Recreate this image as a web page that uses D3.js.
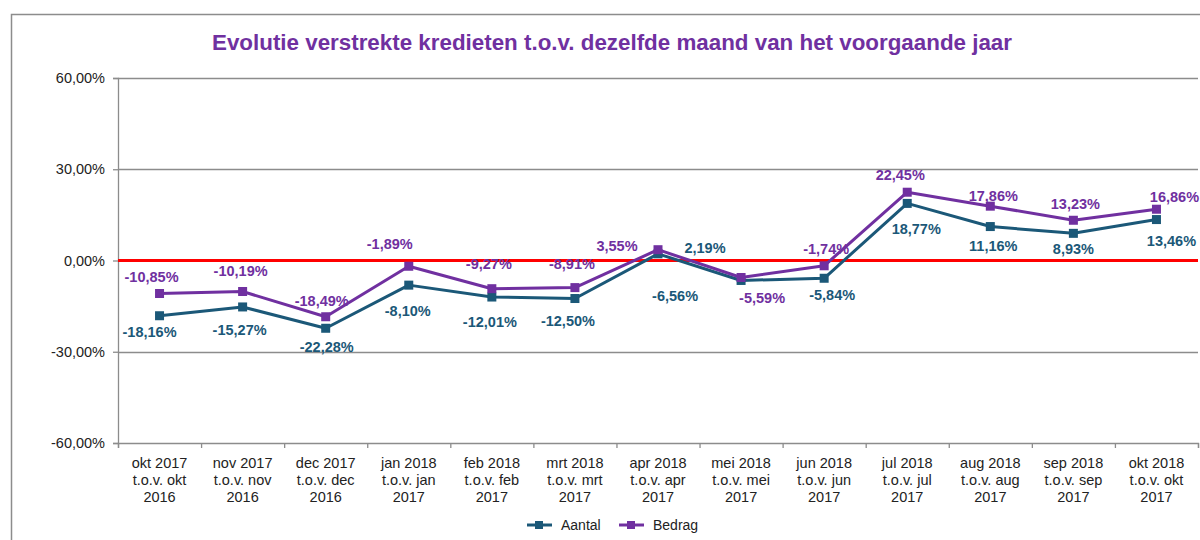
<!DOCTYPE html>
<html>
<head>
<meta charset="utf-8">
<script src="https://cdn.jsdelivr.net/npm/d3@7"></script>
<style>
  body { margin: 0; background: #fff; }
  svg { display: block; font-family: "Liberation Sans", Arial, sans-serif; }
</style>
</head>
<body>
<svg id="chart" width="1200" height="540"></svg>
<script>
// categories (3 lines each)
var categories = [
  ["okt 2017", "t.o.v. okt", "2016"],
  ["nov 2017", "t.o.v. nov", "2016"],
  ["dec 2017", "t.o.v. dec", "2016"],
  ["jan 2018", "t.o.v. jan", "2017"],
  ["feb 2018", "t.o.v. feb", "2017"],
  ["mrt 2018", "t.o.v. mrt", "2017"],
  ["apr 2018", "t.o.v. apr", "2017"],
  ["mei 2018", "t.o.v. mei", "2017"],
  ["jun 2018", "t.o.v. jun", "2017"],
  ["jul 2018", "t.o.v. jul", "2017"],
  ["aug 2018", "t.o.v. aug", "2017"],
  ["sep 2018", "t.o.v. sep", "2017"],
  ["okt 2018", "t.o.v. okt", "2017"]
];
var aantal = [-18.16, -15.27, -22.28, -8.10, -12.01, -12.50, 2.19, -6.56, -5.84, 18.77, 11.16, 8.93, 13.46];
var bedrag = [-10.85, -10.19, -18.49, -1.89, -9.27, -8.91, 3.55, -5.59, -1.74, 22.45, 17.86, 13.23, 16.86];
var yTicks = [-60, -30, 0, 30, 60];
var seriesNames = ["Aantal", "Bedrag"];

// label offsets (px, from marker to label centre)
var aantalLabelOffset = [[-10,16],[-3,23],[1,19],[-1,26],[-2,25],[-7,22],[47,-6],[-66,15],[8,17],[9,26],[3,19],[0,16],[15,21]];
var bedragLabelOffset = [[-8,-17],[-2,-21],[-4,-16],[-19,-22],[-3,-25],[-3,-24],[-41,-4],[21,20],[2,-17],[-7,-17],[3,-10],[2,-16],[18,-12]];

var colAantal = "#1b5878", colBedrag = "#7030a0";

var svg = d3.select("#chart");
var margin = { top: 78, right: 2, bottom: 97, left: 118 };
var w = 1200 - margin.left - margin.right;
var h = 540 - margin.top - margin.bottom;

// outer chart border
svg.append("rect")
  .attr("x", 11.5).attr("y", 14.5)
  .attr("width", 1200).attr("height", 540)
  .attr("fill", "none").attr("stroke", "#8c8c8c").attr("stroke-width", 1.5);

svg.append("text")
  .attr("x", 612).attr("y", 50)
  .attr("text-anchor", "middle")
  .attr("font-size", 22).attr("font-weight", "bold")
  .attr("fill", colBedrag)
  .attr("textLength", 800).attr("lengthAdjust", "spacingAndGlyphs")
  .text("Evolutie verstrekte kredieten t.o.v. dezelfde maand van het voorgaande jaar");

var g = svg.append("g").attr("transform", "translate(" + margin.left + "," + margin.top + ")");

var x = d3.scaleBand().domain(d3.range(categories.length)).range([0, w]);
var y = d3.scaleLinear().domain([-60, 60]).range([h, 0]);
var cx = function(i) { return x(i) + x.bandwidth() / 2; };

// gridlines
g.selectAll(".grid").data(yTicks.filter(function(t) { return t !== 0 && t !== -60; }))
  .enter().append("line")
    .attr("x1", 0).attr("x2", w)
    .attr("y1", function(d) { return Math.round(y(d)) + 0.5; })
    .attr("y2", function(d) { return Math.round(y(d)) + 0.5; })
    .attr("stroke", "#8c8c8c").attr("stroke-width", 1.3);

// y axis
var yAxis = g.append("g")
  .call(d3.axisLeft(y).tickValues(yTicks).tickSize(5).tickPadding(8)
    .tickFormat(function(d) { return d3.format(".2f")(d).replace(".", ",").replace("\u2212", "-") + "%"; }));
yAxis.select(".domain").attr("stroke", "#8c8c8c").attr("stroke-width", 1.3);
yAxis.selectAll(".tick line").attr("stroke", "#8c8c8c").attr("stroke-width", 1.3);
yAxis.selectAll(".tick text").attr("font-size", 14.5).attr("fill", "#222")
  .attr("font-family", "Liberation Sans, Arial, sans-serif");

// x axis
var xAxis = g.append("g").attr("transform", "translate(0," + h + ")")
  .call(d3.axisBottom(d3.scaleLinear().domain([0, categories.length]).range([0, w]))
    .tickValues(d3.range(categories.length + 1)).tickSize(5).tickFormat(""));
xAxis.select(".domain").attr("stroke", "#8c8c8c").attr("stroke-width", 1.3);
xAxis.selectAll(".tick line").attr("stroke", "#8c8c8c").attr("stroke-width", 1.3);

var catLabels = g.selectAll(".cat").data(categories).enter().append("text")
  .attr("class", "cat")
  .attr("text-anchor", "middle")
  .attr("font-size", 14.5).attr("fill", "#222")
  .attr("transform", function(d, i) { return "translate(" + cx(i) + "," + (h + 25) + ")"; });
catLabels.selectAll("tspan").data(function(d) { return d; }).enter().append("tspan")
  .attr("x", 0).attr("dy", function(d, j) { return j === 0 ? 0 : 17; })
  .text(function(d) { return d; });

// zero line
g.append("line")
  .attr("x1", 0).attr("x2", w)
  .attr("y1", y(0)).attr("y2", y(0))
  .attr("stroke", "#ff0000").attr("stroke-width", 3);

// series
var line = d3.line().x(function(d, i) { return cx(i); }).y(function(d) { return y(d); });
var series = [
  { name: seriesNames[0], values: aantal, color: colAantal, offs: aantalLabelOffset },
  { name: seriesNames[1], values: bedrag, color: colBedrag, offs: bedragLabelOffset }
];
var fmt = function(v) { return d3.format(".2f")(v).replace(".", ",").replace("\u2212", "-") + "%"; };

series.forEach(function(s) {
  g.append("path").datum(s.values)
    .attr("d", line).attr("fill", "none")
    .attr("stroke", s.color).attr("stroke-width", 3).attr("stroke-linejoin", "round");
  g.selectAll(null).data(s.values).enter().append("rect")
    .attr("x", function(d, i) { return cx(i) - 4.5; })
    .attr("y", function(d) { return y(d) - 4.5; })
    .attr("width", 9).attr("height", 9)
    .attr("fill", s.color);
});
series.forEach(function(s) {
  g.selectAll(null).data(s.values).enter().append("text")
    .attr("x", function(d, i) { return cx(i) + s.offs[i][0]; })
    .attr("y", function(d, i) { return y(d) + s.offs[i][1]; })
    .attr("dy", "0.35em")
    .attr("text-anchor", "middle")
    .attr("font-size", 14.5).attr("font-weight", "bold")
    .attr("fill", s.color)
    .text(fmt);
});

// legend
var legend = svg.append("g").attr("transform", "translate(527,525)");
var lx = [0, 92];
series.forEach(function(s, i) {
  var lg = legend.append("g").attr("transform", "translate(" + lx[i] + ",0)");
  lg.append("line").attr("x1", 0).attr("x2", 25).attr("y1", 0).attr("y2", 0)
    .attr("stroke", s.color).attr("stroke-width", 3);
  lg.append("rect").attr("x", 8).attr("y", -4).attr("width", 8).attr("height", 8).attr("fill", s.color);
  lg.append("text").attr("x", 34).attr("y", 0).attr("dy", "0.35em")
    .attr("font-size", 14).attr("fill", "#222").text(s.name);
});
</script>
</body>
</html>
